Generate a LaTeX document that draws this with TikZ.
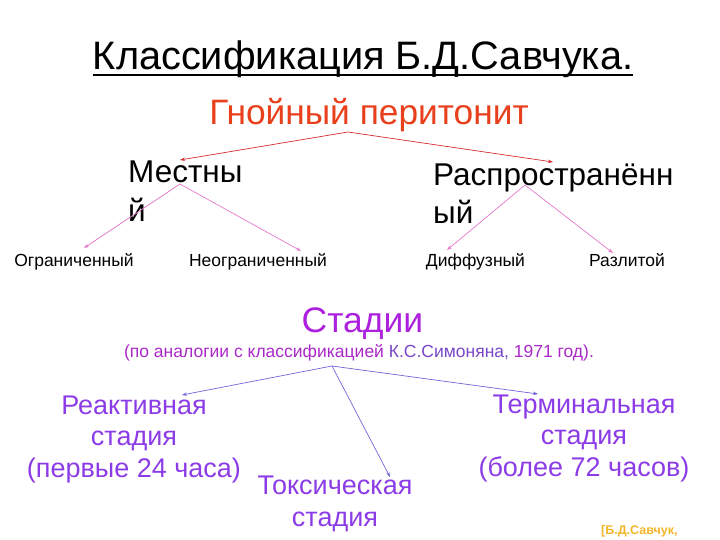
\documentclass[tikz,border=0pt]{standalone}
\usepackage{fontspec}
\setmainfont{Liberation Sans}
\usetikzlibrary{arrows.meta}
\definecolor{tred}{RGB}{232,64,28}
\definecolor{ared}{RGB}{215,45,45}
\definecolor{apink}{RGB}{228,120,205}
\definecolor{stpurple}{RGB}{172,32,222}
\definecolor{subpurple}{RGB}{170,40,200}
\definecolor{subviolet}{RGB}{120,70,200}
\definecolor{stviolet}{RGB}{140,60,230}
\definecolor{aviolet}{RGB}{115,100,215}
\definecolor{korange}{RGB}{242,182,40}
\tikzset{
  px/.style={x=1pt,y=-1pt},
  lbl/.style={inner sep=0pt,anchor=base},
  arr/.style={-{Stealth[length=5pt,width=3.5pt]},line width=0.7pt},
  big/.style={font=\fontsize{31.5}{39}\selectfont,anchor=base west,inner sep=0pt},
  small/.style={lbl,font=\fontsize{17.5}{20}\selectfont},
  stage/.style={inner sep=0pt,text=stviolet,align=center,anchor=base,font=\fontsize{27}{31.5}\selectfont},
}
\begin{document}
\begin{tikzpicture}[px]
\useasboundingbox (0,0) rectangle (720,540);
% title
\node[lbl,font=\fontsize{39.7}{42}\selectfont] (title) at (363,70) {Классификация Б.Д.Савчука.};
\coordinate (ul1) at ([yshift=-5pt]title.base west);
\coordinate (ul2) at ([yshift=-5pt]title.base east);
\draw[line width=1.8pt] (ul1) -- (ul2);
\node[lbl,text=tred,font=\fontsize{35.3}{38}\selectfont] (gp) at (369,125) {Гнойный перитонит};
% level 2 (anchor = baseline of last line)
\node[big] (mest) at (128,222) {\begin{tabular}[b]{@{}l@{}}Местны\\й\end{tabular}};
\node[big] (rasp) at (433,223) {\begin{tabular}[b]{@{}l@{}}Распространённ\\[-1pt]ый\end{tabular}};
% level 3
\node[small] (ogr) at (74,266) {Ограниченный};
\node[small] (neogr) at (258,266) {Неограниченный};
\node[small] (diff) at (475.5,266) {Диффузный};
\node[small] (razl) at (627,266) {Разлитой};
% coordinates
\coordinate (g0) at (348,132);
\coordinate (g1) at (180,160);
\coordinate (g2) at (553,162);
\coordinate (m0) at (180,184);
\coordinate (m1) at (84,248);
\coordinate (m2) at (301,251);
\coordinate (r0) at (525,185);
\coordinate (r1) at (447,250);
\coordinate (r2) at (613,253);
\draw[arr,ared] (g0) -- (g1);
\draw[arr,ared] (g0) -- (g2);
\draw[arr,apink] (m0) -- (m1);
\draw[arr,apink] (m0) -- (m2);
\draw[arr,apink] (r0) -- (r1);
\draw[arr,apink] (r0) -- (r2);
% stages
\node[lbl,text=stpurple,font=\fontsize{35.5}{38}\selectfont] (st) at (362.5,332) {Стадии};
\node[lbl,text=subpurple,font=\fontsize{17.5}{19}\selectfont] (sub) at (359,357) {(по аналогии с классификацией \textcolor{subviolet}{К.С.Симоняна,} 1971 год).};
\node[stage] (react) at (134,477) {Реактивная\\стадия\\(первые 24 часа)};
\node[stage] (tox) at (335,526) {Токсическая\\стадия};
\node[stage] (term) at (584,476) {Терминальная\\стадия\\(более 72 часов)};
\coordinate (s0) at (332,366);
\coordinate (s1) at (182,395);
\coordinate (s2) at (390,477);
\coordinate (s3) at (538,394);
\draw[arr,aviolet] (s0) -- (s1);
\draw[arr,aviolet] (s0) -- (s2);
\draw[arr,aviolet] (s0) -- (s3);
\node[lbl,text=korange,anchor=base west,font=\fontsize{12.5}{14}\selectfont\bfseries] (ref) at (601,534) {[Б.Д.Савчук,};
\end{tikzpicture}
\end{document}
